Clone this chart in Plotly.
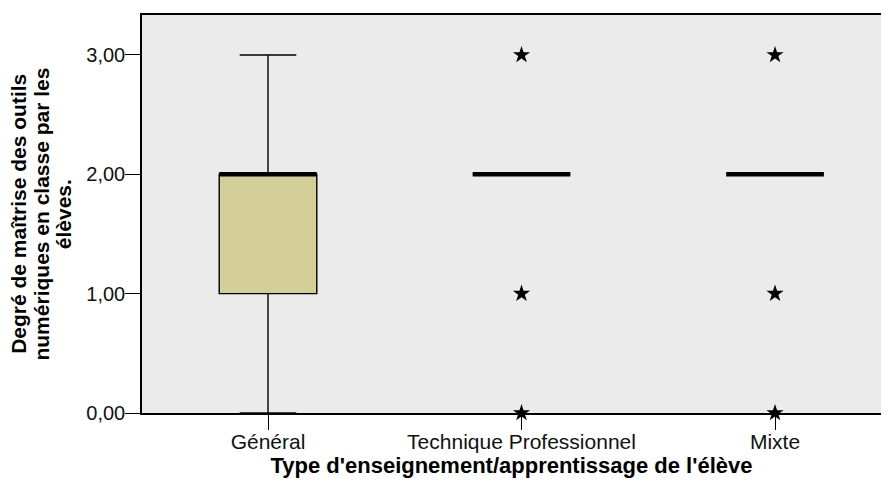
import plotly.graph_objects as go

# categories (x positions 0, 1, 2)
categories = ["Général", "Technique Professionnel", "Mixte"]
cat_pos = [0, 1, 2]

# box statistics per category
q1 = [1, 2, 2]
median = [2, 2, 2]
q3 = [2, 2, 2]
lower_fence = [0, 2, 2]
upper_fence = [3, 2, 2]

# extreme values (stars)
outlier_x = [1, 1, 1, 2, 2, 2]
outlier_y = [3, 1, 0, 3, 1, 0]

y_ticks = [0, 1, 2, 3]

y_title_lines = ["Degré de maîtrise des outils", "numériques en classe par les", "élèves."]

BOX_W = 0.385
FILL = "#d3ce97"

fig = go.Figure()

for i in range(len(categories)):
    fig.add_trace(go.Box(
        x=[cat_pos[i]], q1=[q1[i]], median=[median[i]], q3=[q3[i]],
        lowerfence=[lower_fence[i]], upperfence=[upper_fence[i]],
        width=BOX_W, whiskerwidth=0.58,
        fillcolor=FILL, line=dict(color="black", width=1.4),
        boxpoints=False, showlegend=False, hoverinfo="skip",
    ))

# thick SPSS-style median bars
med_x, med_y = [], []
for p, m in zip(cat_pos, median):
    med_x += [p - BOX_W / 2, p + BOX_W / 2, None]
    med_y += [m, m, None]
fig.add_trace(go.Scatter(x=med_x, y=med_y, mode="lines",
                         line=dict(color="black", width=4.5),
                         showlegend=False, hoverinfo="skip"))

fig.add_trace(go.Scatter(x=outlier_x, y=outlier_y, mode="markers",
                         marker=dict(symbol="star", size=13, color="black"),
                         cliponaxis=False, showlegend=False))

# y title, one annotation per line to get the tight SPSS line spacing
for k, line in enumerate(y_title_lines):
    fig.add_annotation(
        text="<b>%s</b>" % line,
        xref="paper", yref="paper", x=-0.168 + k * 0.0307, y=0.5,
        xanchor="center", yanchor="middle",
        textangle=-90, showarrow=False, font=dict(size=21, color="black"),
    )

# page body adds an 8px offset, so the figure is sized/margined to compensate
fig.update_layout(
    width=873, height=471,
    margin=dict(l=134, r=0, t=7, b=66),
    paper_bgcolor="white", plot_bgcolor="#ebebeb",
    font=dict(family="Liberation Sans, Arial, sans-serif", size=21, color="#111"),
    separators=", ",
    xaxis=dict(
        range=[-0.497, 2.418], tickvals=cat_pos, ticktext=categories,
        ticks="outside", ticklen=15, tickcolor="black", ticklabelstandoff=-6,
        showline=True, linecolor="black", linewidth=1.5, mirror=True,
        showgrid=False, zeroline=False,
        title=dict(text="<b>Type d'enseignement/apprentissage de l'élève</b>",
                   font=dict(size=22, color="black"), standoff=2),
    ),
    yaxis=dict(
        range=[0, 3.335], tickvals=y_ticks, tickformat=".2f",
        ticks="outside", ticklen=15, tickcolor="black", ticklabelstandoff=-4,
        tickfont=dict(size=20),
        showline=True, linecolor="black", linewidth=1.5, mirror=False,
        showgrid=False, zeroline=False,
    ),
)

fig.write_html("out.html")
